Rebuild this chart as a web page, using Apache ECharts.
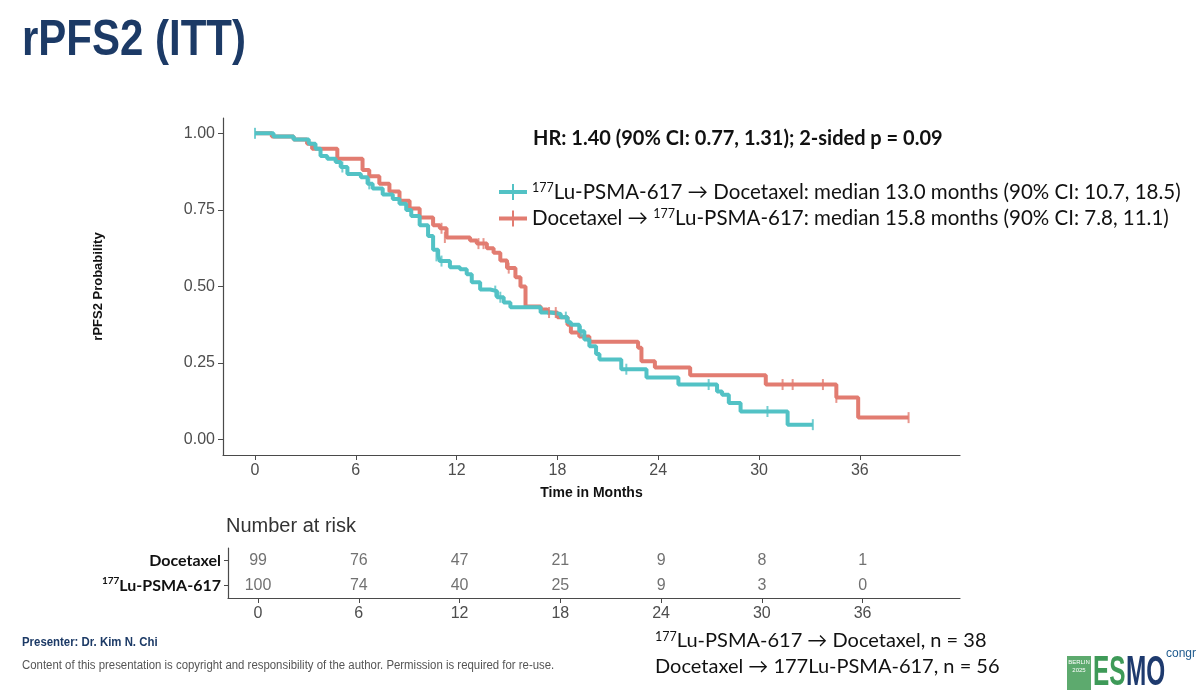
<!DOCTYPE html>
<html>
<head>
<meta charset="utf-8">
<script src="https://cdn.jsdelivr.net/npm/echarts@6/dist/echarts.min.js"></script>
<style>
  html, body { margin: 0; padding: 0; background: #fff; }
  #chart { width: 1200px; height: 699px; }
</style>
</head>
<body>
<div id="chart"></div>
<script>
// 177Lu-PSMA-617 -> Docetaxel (teal)
const luDocTime = [0, 1.1, 2.3, 3.2, 3.6, 3.9, 4.3, 4.8, 5.1, 5.5, 6.3, 6.7, 7.0, 7.6, 8.2, 8.6, 9.0, 9.3, 9.8, 10.3, 10.6, 10.9, 11.0, 11.6, 12.2, 12.6, 12.9, 13.4, 14.0, 14.4, 14.8, 15.2, 17.0, 17.6, 18.2, 18.6, 18.8, 19.3, 19.6, 19.9, 20.3, 20.5, 21.8, 23.3, 25.2, 27.5, 27.8, 28.2, 28.9, 31.7, 33.2];
const luDocSurv = [1.0, 0.99, 0.98, 0.966, 0.95, 0.926, 0.917, 0.906, 0.89, 0.867, 0.857, 0.835, 0.82, 0.80, 0.786, 0.77, 0.75, 0.73, 0.70, 0.665, 0.62, 0.60, 0.583, 0.563, 0.556, 0.54, 0.514, 0.49, 0.485, 0.465, 0.448, 0.432, 0.415, 0.41, 0.40, 0.383, 0.375, 0.354, 0.327, 0.305, 0.28, 0.262, 0.23, 0.203, 0.18, 0.157, 0.147, 0.12, 0.092, 0.049, 0.049];
const luDocCensorTime = [0, 5.2, 6.8, 10.8, 11.1, 14.3, 14.6, 18.5, 19.4, 22.1, 27.0, 30.5, 33.2];
const luDocCensorSurv = [1.0, 0.89, 0.835, 0.60, 0.583, 0.485, 0.465, 0.40, 0.354, 0.23, 0.18, 0.092, 0.049];

// Docetaxel -> 177Lu-PSMA-617 (red)
const docLuTime = [0, 1.0, 2.3, 3.1, 3.4, 4.9, 6.4, 6.8, 7.4, 8.0, 8.6, 9.2, 9.8, 10.6, 11.0, 11.4, 12.8, 13.2, 13.8, 14.2, 14.6, 15.0, 15.5, 15.8, 16.1, 17.0, 17.4, 18.0, 18.6, 18.8, 19.3, 19.9, 22.8, 23.0, 23.8, 25.9, 30.4, 34.6, 35.9, 38.9];
const docLuSurv = [1.0, 0.99, 0.98, 0.966, 0.95, 0.917, 0.88, 0.86, 0.835, 0.81, 0.78, 0.755, 0.725, 0.70, 0.69, 0.66, 0.65, 0.64, 0.625, 0.61, 0.585, 0.56, 0.53, 0.50, 0.435, 0.425, 0.415, 0.40, 0.375, 0.35, 0.337, 0.32, 0.30, 0.256, 0.236, 0.21, 0.18, 0.138, 0.072, 0.072];
const docLuCensorTime = [11.1, 11.3, 13.3, 13.6, 15.1, 17.5, 17.9, 31.4, 32.0, 33.8, 34.6, 38.9];
const docLuCensorSurv = [0.69, 0.66, 0.64, 0.64, 0.56, 0.415, 0.415, 0.18, 0.18, 0.18, 0.138, 0.072];

// number at risk
const riskTimes = [0, 6, 12, 18, 24, 30, 36];
const riskDoc = [99, 76, 47, 21, 9, 8, 1];
const riskLu = [100, 74, 40, 25, 9, 3, 0];
const riskRows = ['177Lu', 'Docetaxel'];

const xTicks = [0, 6, 12, 18, 24, 30, 36];
const yTicks = [0, 0.25, 0.5, 0.75, 1];

const TEAL = '#52C2C5';
const RED = '#E27C71';
const AXIS = '#4a4a4a';
const TXT = '#4D4D4D';
const SANS = 'Liberation Sans, Arial, sans-serif';
const CAL = 'Lato, sans-serif';

function zip(a, b) {
  return a.map((v, i) => [v, b[i]]);
}

const chart = echarts.init(document.getElementById('chart'));

chart.setOption({
  animation: false,
  backgroundColor: '#fff',
  grid: [
    { left: 223, right: 240, top: 118, bottom: 244 },
    { left: 228, right: 240, top: 548, bottom: 101 },
  ],
  legend: {
    orient: 'vertical',
    left: 494,
    top: 176,
    itemGap: 5,
    itemWidth: 28,
    itemHeight: 16,
    data: [
      { name: 'luDoc', icon: 'path://M0,6 L28,6 L28,10 L0,10 Z M13,0 L15,0 L15,16 L13,16 Z' },
      { name: 'docLu', icon: 'path://M0,6 L28,6 L28,10 L0,10 Z M13,0 L15,0 L15,16 L13,16 Z' },
    ],
    formatter: (name) => name === 'luDoc'
      ? '{sup|177}{t|Lu-PSMA-617 → Docetaxel: median 13.0 months (90% CI: 10.7, 18.5)}'
      : '{t|Docetaxel → }{sup|177}{t|Lu-PSMA-617: median 15.8 months (90% CI: 7.8, 11.1)}',
    textStyle: {
      rich: {
        t: { fontFamily: CAL, fontSize: 20.5, color: '#111', lineHeight: 22 },
        sup: { fontFamily: CAL, fontSize: 12.5, color: '#111', verticalAlign: 'top', lineHeight: 22 },
      },
    },
  },
  xAxis: [
    {
      gridIndex: 0,
      type: 'value',
      min: -1.905,
      max: 41.96,
      name: 'Time in Months',
      nameLocation: 'middle',
      nameGap: 31,
      nameTextStyle: { fontFamily: SANS, fontWeight: 'bold', fontSize: 14, color: '#111' },
      axisLine: { show: true, onZero: false, lineStyle: { color: AXIS, width: 1.2 } },
      axisTick: { show: true, length: 5, customValues: xTicks, lineStyle: { color: AXIS } },
      axisLabel: { customValues: xTicks, margin: 8, fontFamily: SANS, fontSize: 16, color: TXT },
      splitLine: { show: false },
    },
    {
      gridIndex: 1,
      type: 'value',
      min: -1.79,
      max: 41.8,
      axisLine: { show: true, onZero: false, lineStyle: { color: AXIS, width: 1.2 } },
      axisTick: { show: true, length: 5, customValues: xTicks, lineStyle: { color: AXIS } },
      axisLabel: { customValues: xTicks, margin: 8, fontFamily: SANS, fontSize: 16, color: TXT },
      splitLine: { show: false },
    },
  ],
  yAxis: [
    {
      gridIndex: 0,
      type: 'value',
      min: -0.05,
      max: 1.05,
      name: 'rPFS2 Probability',
      nameLocation: 'middle',
      nameGap: 118,
      nameTextStyle: { fontFamily: SANS, fontWeight: 'bold', fontSize: 13, color: '#111' },
      axisLine: { show: true, onZero: false, lineStyle: { color: AXIS, width: 1.2 } },
      axisTick: { show: true, length: 5, customValues: yTicks, lineStyle: { color: AXIS } },
      axisLabel: {
        customValues: yTicks,
        margin: 8,
        fontFamily: SANS,
        fontSize: 16,
        color: TXT,
        formatter: (v) => v.toFixed(2),
      },
      splitLine: { show: false },
    },
    {
      gridIndex: 1,
      type: 'category',
      data: riskRows,
      axisLine: { show: true, onZero: false, lineStyle: { color: AXIS, width: 1.2 } },
      axisTick: { show: true, length: 4, alignWithLabel: true, lineStyle: { color: AXIS } },
      axisLabel: {
        margin: 7,
        formatter: (v) => v === '177Lu' ? '{sup|177}{b|Lu-PSMA-617}' : '{b|Docetaxel}',
        rich: {
          b: { fontFamily: CAL, fontWeight: 'bold', fontSize: 16, color: '#111', lineHeight: 20 },
          sup: { fontFamily: CAL, fontWeight: 'bold', fontSize: 10, color: '#111', verticalAlign: 'top', lineHeight: 20 },
        },
      },
      splitLine: { show: false },
    },
  ],
  series: [
    {
      name: 'docLu',
      type: 'line',
      step: 'end',
      xAxisIndex: 0,
      yAxisIndex: 0,
      data: zip(docLuTime, docLuSurv),
      showSymbol: false,
      color: RED,
      lineStyle: { color: RED, width: 4 },
      z: 2,
    },
    {
      name: 'luDoc',
      type: 'line',
      step: 'end',
      xAxisIndex: 0,
      yAxisIndex: 0,
      data: zip(luDocTime, luDocSurv),
      showSymbol: false,
      color: TEAL,
      lineStyle: { color: TEAL, width: 4 },
      z: 3,
    },
    {
      type: 'scatter',
      xAxisIndex: 0,
      yAxisIndex: 0,
      data: zip(docLuCensorTime, docLuCensorSurv),
      symbol: 'rect',
      symbolSize: [2, 11],
      itemStyle: { color: RED },
      z: 4,
    },
    {
      type: 'scatter',
      xAxisIndex: 0,
      yAxisIndex: 0,
      data: zip(luDocCensorTime, luDocCensorSurv),
      symbol: 'rect',
      symbolSize: [2, 11],
      itemStyle: { color: TEAL },
      z: 5,
    },
    {
      type: 'scatter',
      xAxisIndex: 1,
      yAxisIndex: 1,
      data: riskTimes.map((t, i) => [t, 'Docetaxel', riskDoc[i]]),
      symbolSize: 1,
      itemStyle: { color: 'transparent' },
      label: {
        show: true,
        position: 'inside',
        formatter: (p) => String(p.value[2]),
        fontFamily: SANS,
        fontSize: 16,
        color: TXT,
      },
    },
    {
      type: 'scatter',
      xAxisIndex: 1,
      yAxisIndex: 1,
      data: riskTimes.map((t, i) => [t, '177Lu', riskLu[i]]),
      symbolSize: 1,
      itemStyle: { color: 'transparent' },
      label: {
        show: true,
        position: 'inside',
        formatter: (p) => String(p.value[2]),
        fontFamily: SANS,
        fontSize: 16,
        color: TXT,
      },
    },
  ],
  graphic: [
    {
      type: 'text',
      x: 22,
      y: 16,
      scaleX: 0.84,
      style: { text: 'rPFS2 (ITT)', fontFamily: SANS, fontWeight: 'bold', fontSize: 50, fill: '#1C3A66' },
    },
    {
      type: 'text',
      x: 533,
      y: 129,
      style: { text: 'HR: 1.40 (90% CI: 0.77, 1.31); 2-sided p = 0.09', fontFamily: CAL, fontWeight: 'bold', fontSize: 20, fill: '#111' },
    },
    {
      type: 'text',
      x: 226,
      y: 516,
      style: { text: 'Number at risk', fontFamily: SANS, fontSize: 20, fill: '#333' },
    },
    {
      type: 'text',
      x: 22,
      y: 637,
      scaleX: 0.95,
      style: { text: 'Presenter: Dr. Kim N. Chi', fontFamily: SANS, fontWeight: 'bold', fontSize: 12, fill: '#1C3A66' },
    },
    {
      type: 'text',
      x: 22,
      y: 660,
      scaleX: 0.95,
      style: { text: 'Content of this presentation is copyright and responsibility of the author. Permission is required for re-use.', fontFamily: SANS, fontSize: 12, fill: '#555' },
    },
    {
      type: 'text',
      x: 655,
      y: 630,
      style: {
        text: '{sup|177}{t|Lu-PSMA-617 → Docetaxel, n = 38}',
        rich: {
          t: { fontFamily: CAL, fontSize: 20, fill: '#111', lineHeight: 22 },
          sup: { fontFamily: CAL, fontSize: 12.5, fill: '#111', verticalAlign: 'top', lineHeight: 22 },
        },
      },
    },
    {
      type: 'text',
      x: 655,
      y: 657,
      style: { text: 'Docetaxel → 177Lu-PSMA-617, n = 56', fontFamily: CAL, fontSize: 20, fill: '#111' },
    },
    // ESMO congress badge
    {
      type: 'rect',
      shape: { x: 1067, y: 656, width: 24, height: 34 },
      style: { fill: '#5DAA6E' },
    },
    {
      type: 'text',
      x: 1079,
      y: 666,
      style: { text: 'BERLIN\n2025', fontFamily: SANS, fontSize: 6, fill: '#fff', align: 'center', verticalAlign: 'middle', lineHeight: 8 },
    },
    {
      type: 'text',
      x: 1093,
      y: 652,
      scaleX: 0.58,
      style: { text: 'ES', fontFamily: SANS, fontWeight: 'bold', fontSize: 42, fill: '#3E9A58' },
    },
    {
      type: 'text',
      x: 1126,
      y: 652,
      scaleX: 0.58,
      style: { text: 'MO', fontFamily: SANS, fontWeight: 'bold', fontSize: 42, fill: '#1E3A6E' },
    },
    {
      type: 'text',
      x: 1166,
      y: 648,
      style: { text: 'congr', fontFamily: SANS, fontSize: 12, fill: '#1E5A8E' },
    },
  ],
});
</script>
</body>
</html>
